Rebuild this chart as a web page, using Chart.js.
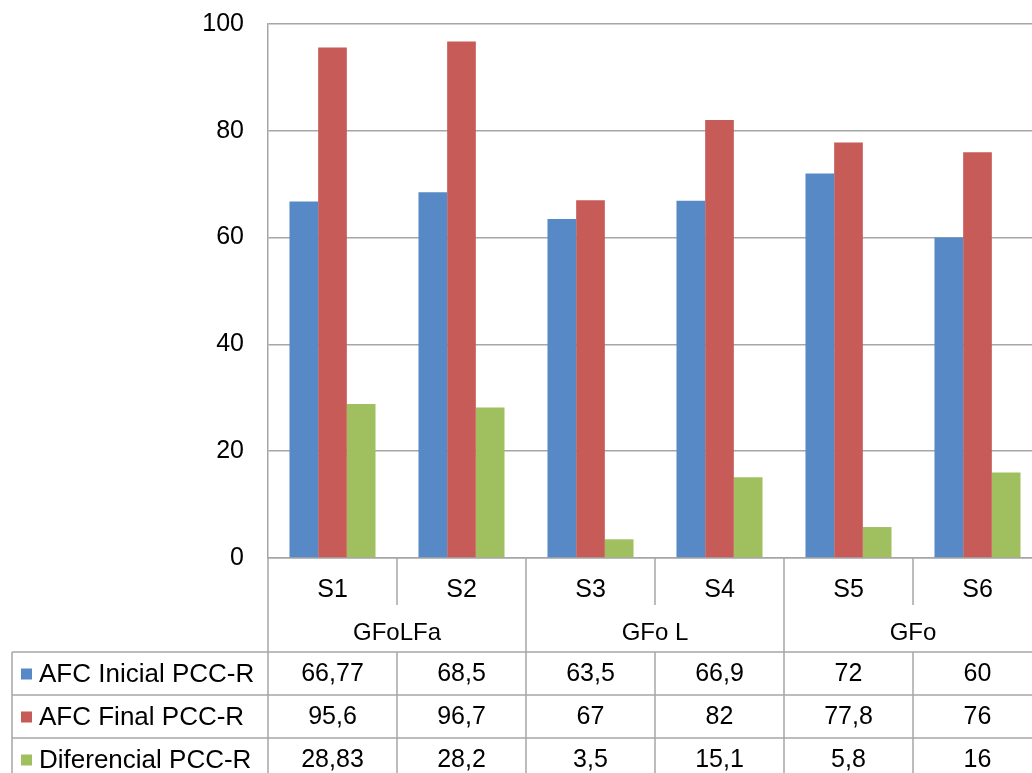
<!DOCTYPE html>
<html>
<head>
  <title>AFC PCC-R</title>
  <script src="https://cdn.jsdelivr.net/npm/chart.js"></script>
  <style>
    body { margin: 0; overflow: hidden; background: #fff; }
    #wrap { width: 1032px; height: 773px; overflow: hidden; }
  </style>
</head>
<body>
  <div id="wrap"><canvas id="afcChart" width="1045" height="773"></canvas></div>

  <script>
    const samples = ['S1', 'S2', 'S3', 'S4', 'S5', 'S6'];
    const groups = ['GFoLFa', 'GFo L', 'GFo'];
    const seriesNames = ['AFC Inicial PCC-R', 'AFC Final PCC-R', 'Diferencial PCC-R'];
    const inicial = [66.77, 68.5, 63.5, 66.9, 72, 60];
    const final = [95.6, 96.7, 67, 82, 77.8, 76];
    const diferencial = [28.83, 28.2, 3.5, 15.1, 5.8, 16];
    const colors = ['#5689C6', '#C65B57', '#A0C060'];

    const font = '"Liberation Sans", Arial, sans-serif';
    const lineColor = '#A6A6A6';
    const fmt = v => String(v).replace('.', ',');

    // draws the data table under the plot, using the x scale positions
    const dataTable = {
      id: 'dataTable',
      afterDraw(chart) {
        const ctx = chart.ctx;
        const x = chart.scales.x;
        const area = chart.chartArea;
        const bottom = chart.height;
        const half = (x.getPixelForValue(1) - x.getPixelForValue(0)) / 2;
        const edge = i => x.getPixelForValue(i) - half;   // left edge of category i
        const catBottom = area.bottom + 47;
        const groupBottom = area.bottom + 94;
        const rowH = 43;
        const legendLeft = 12;
        const series = [inicial, final, diferencial];

        ctx.save();
        ctx.strokeStyle = lineColor;
        ctx.lineWidth = 1.5;
        ctx.beginPath();
        // group dividers, full height
        for (let g = 0; g <= groups.length; g++) {
          const px = edge(g * 2);
          ctx.moveTo(px, area.bottom); ctx.lineTo(px, bottom);
        }
        // sample dividers (not in group row)
        for (let g = 0; g < groups.length; g++) {
          const px = edge(g * 2 + 1);
          ctx.moveTo(px, area.bottom); ctx.lineTo(px, catBottom);
          ctx.moveTo(px, groupBottom); ctx.lineTo(px, bottom);
        }
        // legend column left border
        ctx.moveTo(legendLeft, groupBottom); ctx.lineTo(legendLeft, bottom);
        // row lines
        for (let r = 0; r <= series.length; r++) {
          const py = groupBottom + r * rowH;
          ctx.moveTo(legendLeft, py); ctx.lineTo(area.right, py);
        }
        ctx.stroke();

        ctx.fillStyle = '#000';
        ctx.textAlign = 'center';
        ctx.textBaseline = 'middle';
        ctx.font = '24px ' + font;
        groups.forEach((g, i) => {
          const cx = (edge(i * 2) + edge(i * 2 + 2)) / 2;
          ctx.fillText(g, cx, area.bottom + 75);
        });

        series.forEach((vals, r) => {
          const cy = groupBottom + r * rowH + rowH / 2 + 1;
          ctx.fillStyle = colors[r];
          ctx.fillRect(21, cy - 6, 11, 11);
          ctx.fillStyle = '#000';
          ctx.textAlign = 'left';
          ctx.font = '26px ' + font;
          ctx.fillText(seriesNames[r], 39, cy);
          ctx.textAlign = 'center';
          ctx.font = '25px ' + font;
          vals.forEach((v, i) => ctx.fillText(fmt(v), x.getPixelForValue(i), cy));
        });
        ctx.restore();
      }
    };

    const ctx = document.getElementById('afcChart').getContext('2d');
    new Chart(ctx, {
      type: 'bar',
      data: {
        labels: samples,
        datasets: [
          { label: seriesNames[0], data: inicial, backgroundColor: colors[0] },
          { label: seriesNames[1], data: final, backgroundColor: colors[1] },
          { label: seriesNames[2], data: diferencial, backgroundColor: colors[2] }
        ]
      },
      options: {
        responsive: false,
        animation: false,
        datasets: { bar: { categoryPercentage: 0.667, barPercentage: 1.0 } },
        layout: { padding: { top: 24, right: 3, left: 0, bottom: 0 } },
        plugins: { legend: { display: false }, tooltip: { enabled: false } },
        scales: {
          x: {
            grid: { display: false },
            border: { color: lineColor, width: 1.5 },
            ticks: { color: '#000', font: { size: 25, family: font }, padding: 9 },
            afterFit: s => { s.height = 215; }
          },
          y: {
            min: 0, max: 100,
            ticks: { stepSize: 20, color: '#000', font: { size: 25, family: font }, padding: 0 },
            grid: { color: lineColor, lineWidth: 1.5, drawTicks: true, tickLength: 24, tickColor: 'rgba(0,0,0,0)' },
            border: { color: lineColor, width: 1.5 },
            afterFit: s => { s.width = 268; }
          }
        }
      },
      plugins: [dataTable]
    });
  </script>
</body>
</html>
